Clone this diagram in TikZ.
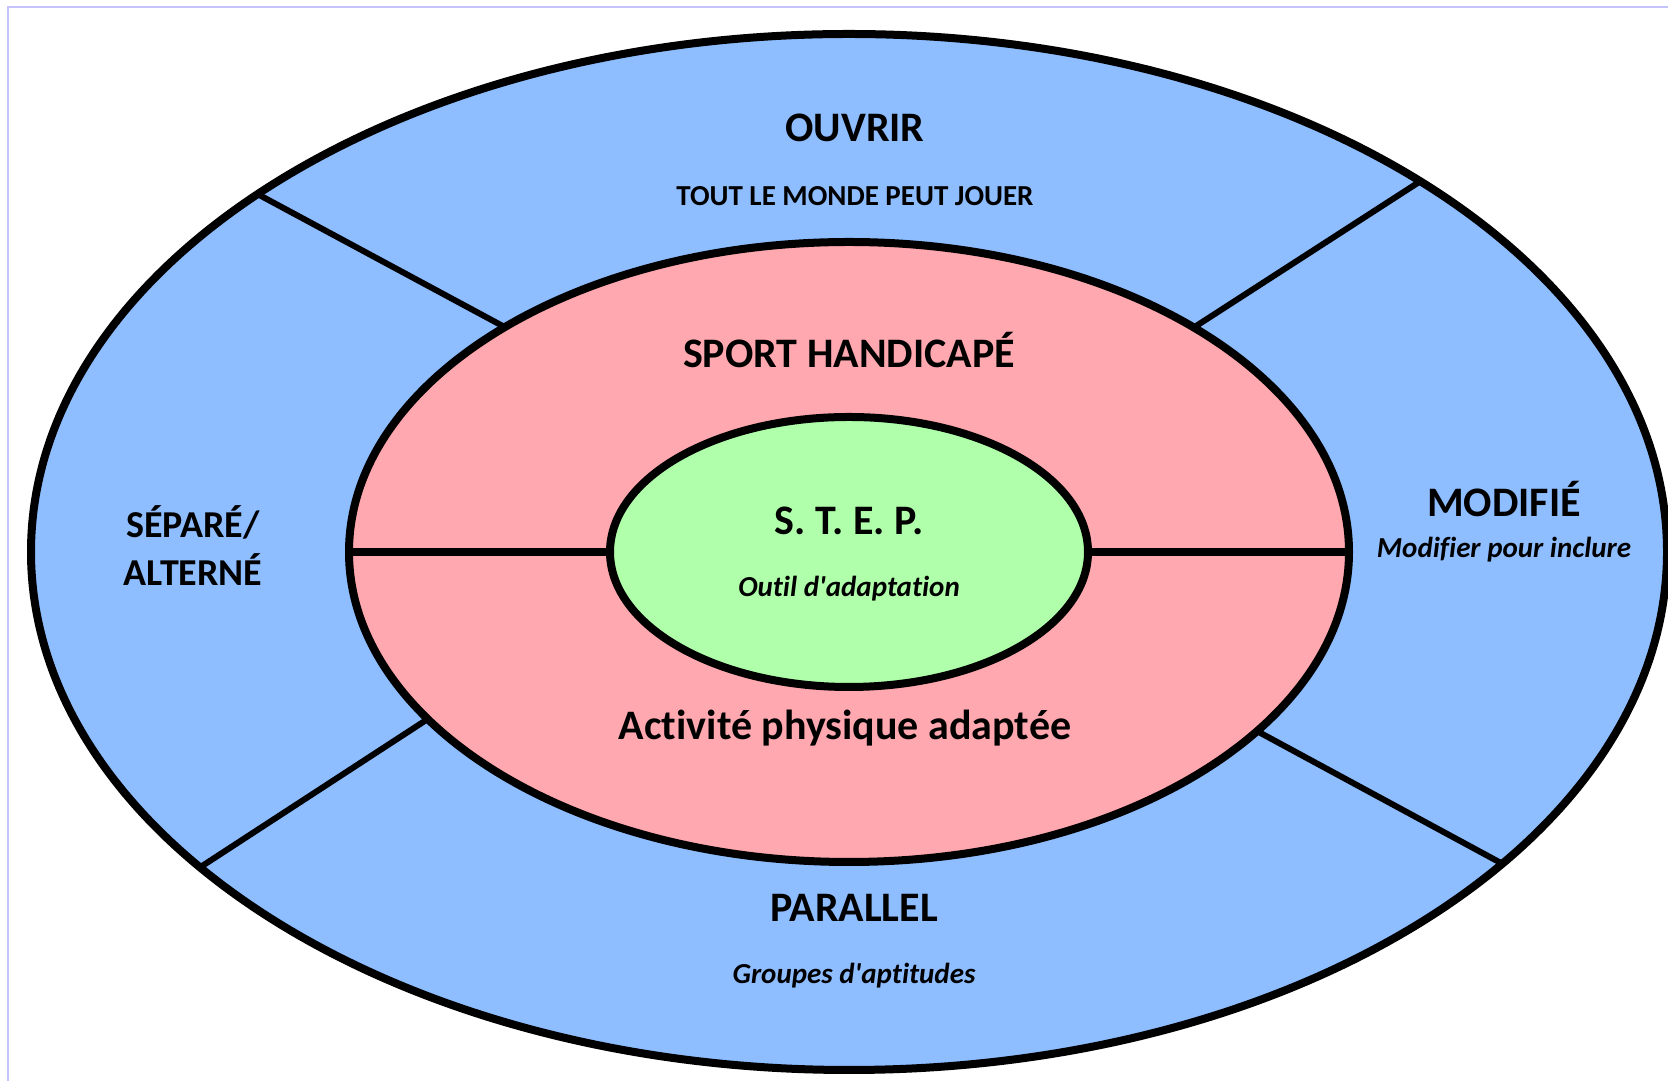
\documentclass[tikz,border=0pt]{standalone}
\usepackage{fontspec}
\setmainfont{Carlito}[Ligatures=NoCommon]
\definecolor{ringblue}{RGB}{142,190,255}
\definecolor{ringpink}{RGB}{255,168,176}
\definecolor{ringgreen}{RGB}{176,255,170}
\definecolor{framelav}{RGB}{196,196,250}
\tikzset{
  ring/.style={draw=black, line width=8pt},
  divider/.style={draw=black, line width=6pt},
  bar/.style={draw=black, line width=8pt},
  title/.style={anchor=base, inner sep=0pt, font=\bfseries\fontsize{42}{48}\selectfont},
  sidetitle/.style={anchor=base, inner sep=0pt, font=\bfseries\fontsize{38}{44}\selectfont},
  caps/.style={anchor=base, inner sep=0pt, font=\bfseries\fontsize{29}{34}\selectfont},
  sub/.style={anchor=base, inner sep=0pt, font=\bfseries\itshape\fontsize{29}{34}\selectfont},
}
\begin{document}
\begin{tikzpicture}[x=1pt,y=1pt]
\useasboundingbox (0,0) rectangle (1668,1081);
\fill[white] (0,0) rectangle (1668,1081);
\draw[framelav, line width=1.5pt] (8,0) -- (8,1074) -- (1668,1074);
\coordinate (C) at (849,529);
% outer ring
\fill[ringblue] (C) ellipse [x radius=818, y radius=518];
\draw[ring] (C) ellipse [x radius=818, y radius=518];
% divider end points
\coordinate (tlo) at ({849+818*cos(136.3)},{529+518*sin(136.3)});
\coordinate (tlm) at ({849+500*cos(133.5)},{529+310*sin(133.5)});
\coordinate (tro) at ({849+818*cos(45.7)},{529+518*sin(45.7)});
\coordinate (trm) at ({849+500*cos(46.4)},{529+310*sin(46.4)});
\coordinate (blo) at ({849+818*cos(217.5)},{529+518*sin(217.5)});
\coordinate (blm) at ({849+500*cos(212.6)},{529+310*sin(212.6)});
\coordinate (bro) at ({849+818*cos(323)},{529+518*sin(323)});
\coordinate (brm) at ({849+500*cos(324.7)},{529+310*sin(324.7)});
\draw[divider] (tlo) -- (tlm);
\draw[divider] (tro) -- (trm);
\draw[divider] (blo) -- (blm);
\draw[divider] (bro) -- (brm);
% middle ring
\fill[ringpink] (C) ellipse [x radius=500, y radius=310];
\draw[ring] (C) ellipse [x radius=500, y radius=310];
\coordinate (ml) at (349,529);
\coordinate (il) at (610,529);
\coordinate (ir) at (1088,529);
\coordinate (mr) at (1349,529);
\draw[bar] (ml) -- (il);
\draw[bar] (ir) -- (mr);
% inner
\fill[ringgreen] (C) ellipse [x radius=239, y radius=135];
\draw[ring] (C) ellipse [x radius=239, y radius=135];
% texts
\node[title] (ouvrir) at (855,939) {OUVRIR};
\node[caps] (tout) at (855,875) {TOUT LE MONDE PEUT JOUER};
\node[title] (sport) at (849,713) {SPORT HANDICAPÉ};
\node[title] (step) at (849,546) {S. T. E. P.};
\node[sub] (outil) at (849,484) {Outil d\textquotesingle adaptation};
\node[title] (apa) at (845,341) {Activité physique adaptée};
\node[title] (modif) at (1504,564) {MODIFIÉ};
\node[sub] (modifsub) at (1504,523) {Modifier pour inclure};
\node[sidetitle] (sep1) at (193,543) {SÉPARÉ/};
\node[sidetitle] (sep2) at (193,495) {ALTERNÉ};
\node[title] (para) at (854,159) {PARALLEL};
\node[sub] (parasub) at (854,97) {Groupes d\textquotesingle aptitudes};
\end{tikzpicture}
\end{document}
